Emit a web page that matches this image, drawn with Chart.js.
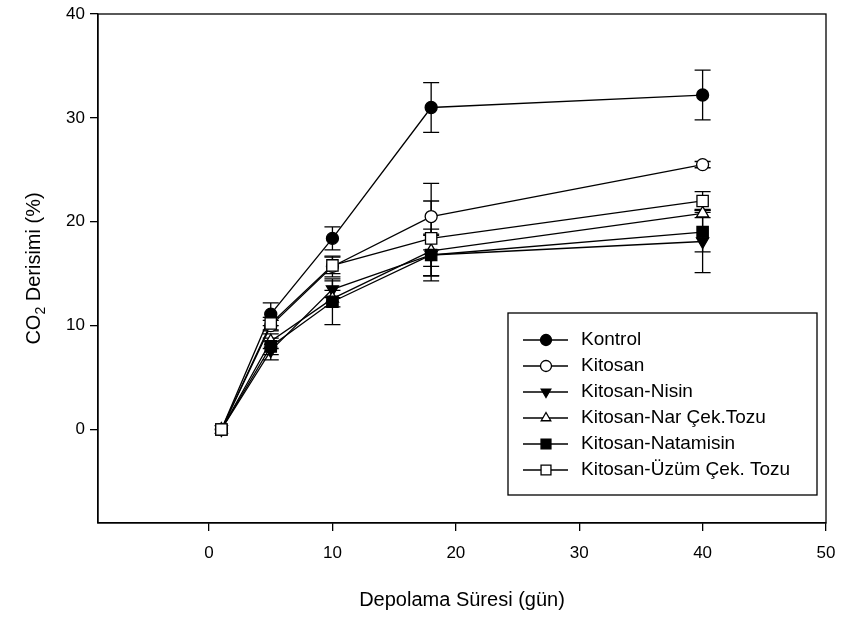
<!DOCTYPE html>
<html>
<head>
<meta charset="utf-8">
<script src="https://cdn.jsdelivr.net/npm/chart.js@4.4.1/dist/chart.umd.min.js"></script>
<style>
  html, body { margin: 0; padding: 0; background: #fff; }
  #wrap { width: 842px; height: 618px; }
</style>
</head>
<body>
<div id="wrap"><canvas id="chart" width="842" height="618"></canvas></div>
<script>
const days = [1, 5, 10, 18, 40];
const xTicks = [0, 10, 20, 30, 40, 50];
const yTicks = [0, 10, 20, 30, 40];

const seriesNames = ['Kontrol', 'Kitosan', 'Kitosan-Nisin', 'Kitosan-Nar Çek.Tozu', 'Kitosan-Natamisin', 'Kitosan-Üzüm Çek. Tozu'];

const kontrol = [0, 11.1, 18.4, 31.0, 32.2];
const kitosan = [0, 10.0, 15.7, 20.5, 25.5];
const nisin = [0, 7.6, 13.5, 16.8, 18.1];
const nar = [0, 8.5, 12.6, 17.2, 20.8];
const natamisin = [0, 8.0, 12.3, 16.8, 19.0];
const uzum = [0, 10.2, 15.8, 18.4, 22.0];

const kontrolErr = [0, 1.1, 1.1, 2.4, 2.4];
const kitosanErr = [0, 0.5, 1.0, 3.2, 0.3];
const nisinErr = [0, 0.9, 0.8, 2.5, 3.0];
const narErr = [0, 0.7, 0.8, 1.5, 0.4];
const natamisinErr = [0, 0.8, 2.2, 2.0, 1.9];
const uzumErr = [0, 0.6, 0.8, 3.6, 0.9];

const values = [kontrol, kitosan, nisin, nar, natamisin, uzum];
const errors = [kontrolErr, kitosanErr, nisinErr, narErr, natamisinErr, uzumErr];

// marker look per series: style, filled, rotation, radius
const markers = [
  { style: 'circle', fill: '#000', rot: 0, r: 6 },
  { style: 'circle', fill: '#fff', rot: 0, r: 6 },
  { style: 'triangle', fill: '#000', rot: 180, r: 7 },
  { style: 'triangle', fill: '#fff', rot: 0, r: 7 },
  { style: 'rect', fill: '#000', rot: 0, r: 8 },
  { style: 'rect', fill: '#fff', rot: 0, r: 8 }
];

const FONT = 'Arial, "Liberation Sans", sans-serif';

// later series are drawn on top, like the original
const datasets = values.map((vals, i) => ({
  label: seriesNames[i],
  data: vals.map((v, j) => ({ x: days[j], y: v })),
  order: values.length - i,
  borderColor: '#000',
  borderWidth: 1.3,
  pointStyle: markers[i].style,
  pointRotation: markers[i].rot,
  pointRadius: markers[i].r,
  pointBackgroundColor: markers[i].fill,
  pointBorderColor: '#000',
  pointBorderWidth: 1.3,
  tension: 0,
  fill: false
}));

function drawMarker(ctx, m, x, y, r) {
  ctx.save();
  ctx.fillStyle = m.fill;
  ctx.strokeStyle = '#000';
  ctx.lineWidth = 1.3;
  ctx.beginPath();
  if (m.style === 'circle') {
    ctx.arc(x, y, r, 0, Math.PI * 2);
  } else if (m.style === 'rect') {
    const s = r * Math.SQRT1_2;
    ctx.rect(x - s, y - s, 2 * s, 2 * s);
  } else {
    const d = m.rot === 180 ? -1 : 1;
    ctx.moveTo(x, y - d * r);
    ctx.lineTo(x + r * 0.87, y + d * r * 0.5);
    ctx.lineTo(x - r * 0.87, y + d * r * 0.5);
    ctx.closePath();
  }
  ctx.fill();
  ctx.stroke();
  ctx.restore();
}

const errorBars = {
  id: 'errorBars',
  beforeDatasetsDraw(chart) {
    const ctx = chart.ctx;
    const xs = chart.scales.x, ys = chart.scales.y;
    ctx.save();
    ctx.strokeStyle = '#000';
    ctx.lineWidth = 1.3;
    errors.forEach((errs, i) => {
      errs.forEach((e, j) => {
        if (!e) return;
        const x = xs.getPixelForValue(days[j]);
        const y1 = ys.getPixelForValue(values[i][j] + e);
        const y2 = ys.getPixelForValue(values[i][j] - e);
        ctx.beginPath();
        ctx.moveTo(x, y1); ctx.lineTo(x, y2);
        ctx.moveTo(x - 8, y1); ctx.lineTo(x + 8, y1);
        ctx.moveTo(x - 8, y2); ctx.lineTo(x + 8, y2);
        ctx.stroke();
      });
    });
    ctx.restore();
  }
};

const frameAndText = {
  id: 'frameAndText',
  afterDraw(chart) {
    const ctx = chart.ctx;
    const a = chart.chartArea;
    ctx.save();
    ctx.strokeStyle = '#000';
    ctx.lineWidth = 1.3;
    ctx.strokeRect(a.left, a.top, a.right - a.left, a.bottom - a.top);

    // axis titles
    ctx.fillStyle = '#000';
    ctx.textBaseline = 'middle';
    ctx.font = '20px ' + FONT;
    ctx.textAlign = 'center';
    ctx.fillText('Depolama Süresi (gün)', (a.left + a.right) / 2, 600);

    ctx.save();
    ctx.translate(34, (a.top + a.bottom) / 2);
    ctx.rotate(-Math.PI / 2);
    const p1 = 'CO', p2 = '2', p3 = ' Derisimi (%)';
    ctx.font = '20px ' + FONT;
    const w1 = ctx.measureText(p1).width, w3 = ctx.measureText(p3).width;
    ctx.font = '14px ' + FONT;
    const w2 = ctx.measureText(p2).width;
    const x0 = -(w1 + w2 + w3) / 2;
    ctx.textAlign = 'left';
    ctx.font = '20px ' + FONT;
    ctx.fillText(p1, x0, 0);
    ctx.font = '14px ' + FONT;
    ctx.fillText(p2, x0 + w1, 7);
    ctx.font = '20px ' + FONT;
    ctx.fillText(p3, x0 + w1 + w2, 0);
    ctx.restore();

    // legend
    const bx = 508, by = 313, bw = 309, bh = 182;
    ctx.fillStyle = '#fff';
    ctx.fillRect(bx, by, bw, bh);
    ctx.strokeRect(bx, by, bw, bh);
    ctx.font = '19px ' + FONT;
    ctx.textAlign = 'left';
    seriesNames.forEach((name, i) => {
      const y = by + 27 + i * 26;
      ctx.beginPath();
      ctx.moveTo(bx + 15, y); ctx.lineTo(bx + 60, y);
      ctx.stroke();
      drawMarker(ctx, markers[i], bx + 38, y, markers[i].style === 'rect' ? 7 : 5.5);
      ctx.fillStyle = '#000';
      ctx.fillText(name, bx + 73, y);
    });
    ctx.restore();
  }
};

new Chart(document.getElementById('chart'), {
  type: 'line',
  data: { datasets: datasets },
  plugins: [errorBars, frameAndText],
  options: {
    responsive: false,
    animation: false,
    layout: { padding: { top: 14, right: 16, left: 0, bottom: 0 } },
    plugins: { legend: { display: false }, tooltip: { enabled: false } },
    scales: {
      x: {
        type: 'linear',
        min: -9, max: 50,
        afterBuildTicks: s => { s.ticks = xTicks.map(v => ({ value: v })); },
        afterFit: s => { s.height = 95; s.paddingLeft = 0; s.paddingRight = 0; },
        grid: { drawOnChartArea: false, drawTicks: true, tickLength: 8, color: '#000', lineWidth: 1.3 },
        border: { display: true, color: '#000', width: 1.3 },
        ticks: { color: '#000', font: { family: FONT, size: 17 }, padding: 12, maxRotation: 0 }
      },
      y: {
        type: 'linear',
        min: -9, max: 40,
        afterBuildTicks: s => { s.ticks = yTicks.map(v => ({ value: v })); },
        afterFit: s => { s.width = 98; s.paddingTop = 0; s.paddingBottom = 0; },
        grid: { drawOnChartArea: false, drawTicks: true, tickLength: 8, color: '#000', lineWidth: 1.3 },
        border: { display: true, color: '#000', width: 1.3 },
        ticks: { color: '#000', font: { family: FONT, size: 17 }, padding: 5 }
      }
    }
  }
});
</script>
</body>
</html>
